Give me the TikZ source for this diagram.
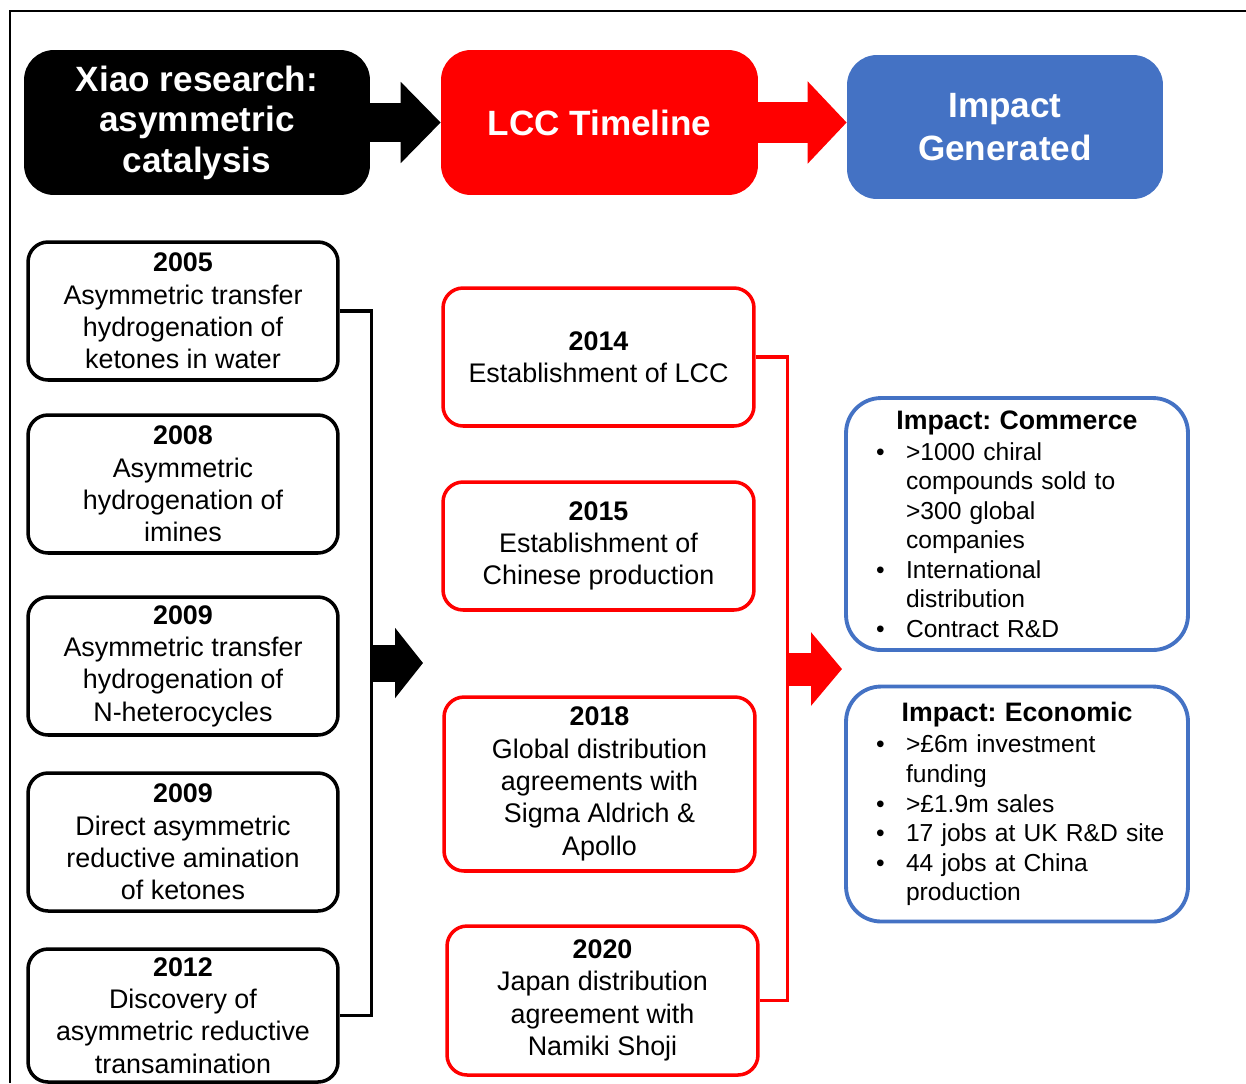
\documentclass[tikz,border=0pt]{standalone}
\usepackage{fontspec}
\setmainfont{Liberation Sans}
\usetikzlibrary{arrows.meta}
\definecolor{LCCRed}{HTML}{FF0000}
\definecolor{ImpactBlue}{HTML}{4472C4}
\frenchspacing
\newcommand{\impactbullet}{\makebox[0.95cm][l]{\hspace{0.35cm}\textbullet}}
\newcommand{\impactgap}{\hspace*{0.95cm}}
\newcommand{\impacttitle}[1]{\makebox[\hsize][c]{\fontsize{15.2}{16.8}\selectfont\bfseries #1}}

\begin{document}
\begin{tikzpicture}[x=0.02cm, y=-0.02cm]
    \tikzstyle{head} = [rectangle, rounded corners=0.6cm, text=white, align=center, inner sep=0pt, font=\fontsize{20}{23}\selectfont\bfseries]
    \tikzstyle{study} = [rectangle, draw=black, line width=2pt, rounded corners=0.4cm, fill=white, minimum width=6.2cm, minimum height=2.76cm, align=center, inner sep=0pt, font=\fontsize{15.3}{18.4}\selectfont]
    \tikzstyle{milestone} = [study, draw=LCCRed, minimum width=6.22cm]
    \tikzstyle{impact} = [rectangle, draw=ImpactBlue, line width=2.2pt, rounded corners=0.7cm, text width=6.34cm, inner xsep=0.25cm, inner ysep=0pt, align=left, font=\fontsize{14}{16.8}\selectfont]
    \tikzstyle{bus} = [draw, line width=1.8pt]
    \tikzstyle{fat} = [line width=0.78cm, -{Triangle[length=0.8cm, width=1.58cm]}]

    \useasboundingbox (0,0) rectangle (1246,1083);
    \draw[line width=1.5pt] (10,1083) -- (10,11) -- (1246,11);

    \node [head, fill=black, minimum width=6.92cm, minimum height=2.9cm] (xiao) at (197,122.5) {Xiao research:\\asymmetric\\catalysis};
    \node [head, fill=LCCRed, minimum width=6.34cm, minimum height=2.9cm] (lcc) at (599.5,122.5) {LCC Timeline};
    \node [head, fill=ImpactBlue, minimum width=6.32cm, minimum height=2.88cm, font=\fontsize{20}{24}\selectfont\bfseries] (generated) at (1005,127) {Impact\\Generated};

    \node [study] (y2005) at (183,311) {\textbf{2005}\\Asymmetric transfer\\hydrogenation of\\ketones in water};
    \node [study] (y2008) at (183,484) {\textbf{2008}\\Asymmetric\\hydrogenation of\\imines};
    \node [study] (y2009a) at (183,666) {\textbf{2009}\\Asymmetric transfer\\hydrogenation of\\N-heterocycles};
    \node [study] (y2009b) at (183,842) {\textbf{2009}\\Direct asymmetric\\reductive amination\\of ketones};
    \node [study, minimum height=2.66cm] (y2012) at (183,1015.5) {\textbf{2012}\\Discovery of\\asymmetric reductive\\transamination};

    \node [milestone] (m2014) at (598.5,357) {\textbf{2014}\\Establishment of LCC};
    \node [milestone, minimum height=2.56cm] (m2015) at (598.5,546) {\textbf{2015}\\Establishment of\\Chinese production};
    \node [milestone, minimum height=3.48cm] (m2018) at (599.5,784) {\textbf{2018}\\Global distribution\\agreements with\\Sigma Aldrich \&\\Apollo};
    \node [milestone, minimum height=2.98cm] (m2020) at (602.5,1000.5) {\textbf{2020}\\Japan distribution\\agreement with\\Namiki Shoji};

    \node [impact, minimum height=5.04cm] (commerce) at (1017,524) {\impacttitle{Impact: Commerce}\\[1pt]
        \impactbullet >1000 chiral\\ \impactgap compounds sold to\\ \impactgap >300 global\\ \impactgap companies\\
        \impactbullet International\\ \impactgap distribution\\
        \impactbullet Contract R\&D};
    \node [impact, minimum height=4.7cm] (economic) at (1017,804) {\impacttitle{Impact: Economic}\\[1pt]
        \impactbullet >£6m investment\\ \impactgap funding\\
        \impactbullet >£1.9m sales\\
        \impactbullet 17 jobs at UK R\&D site\\
        \impactbullet 44 jobs at China\\ \impactgap production};

    \draw [fat] (xiao.east) -- (lcc.west);
    \draw [fat, LCCRed, -{Triangle[length=0.78cm, width=1.6cm]}, line width=0.82cm] (lcc.east) -- (lcc.east -| generated.west);

    \path [bus] (y2005.east) -- ++(32,0) |- (y2012.east);
    \path [bus, LCCRed] (m2014.east) -- ++(32,0) |- (m2020.east);

    \coordinate (leftbus) at (370,663);
    \coordinate (lefttip) at (423,663);
    \coordinate (redbus) at (786,669);
    \coordinate (redtip) at (842,669);
    \draw [line width=0.74cm, -{Triangle[length=0.56cm, width=1.38cm]}] (leftbus) -- (lefttip);
    \draw [LCCRed, line width=0.66cm, -{Triangle[length=0.62cm, width=1.44cm]}] (redbus) -- (redtip);
\end{tikzpicture}
\end{document}
